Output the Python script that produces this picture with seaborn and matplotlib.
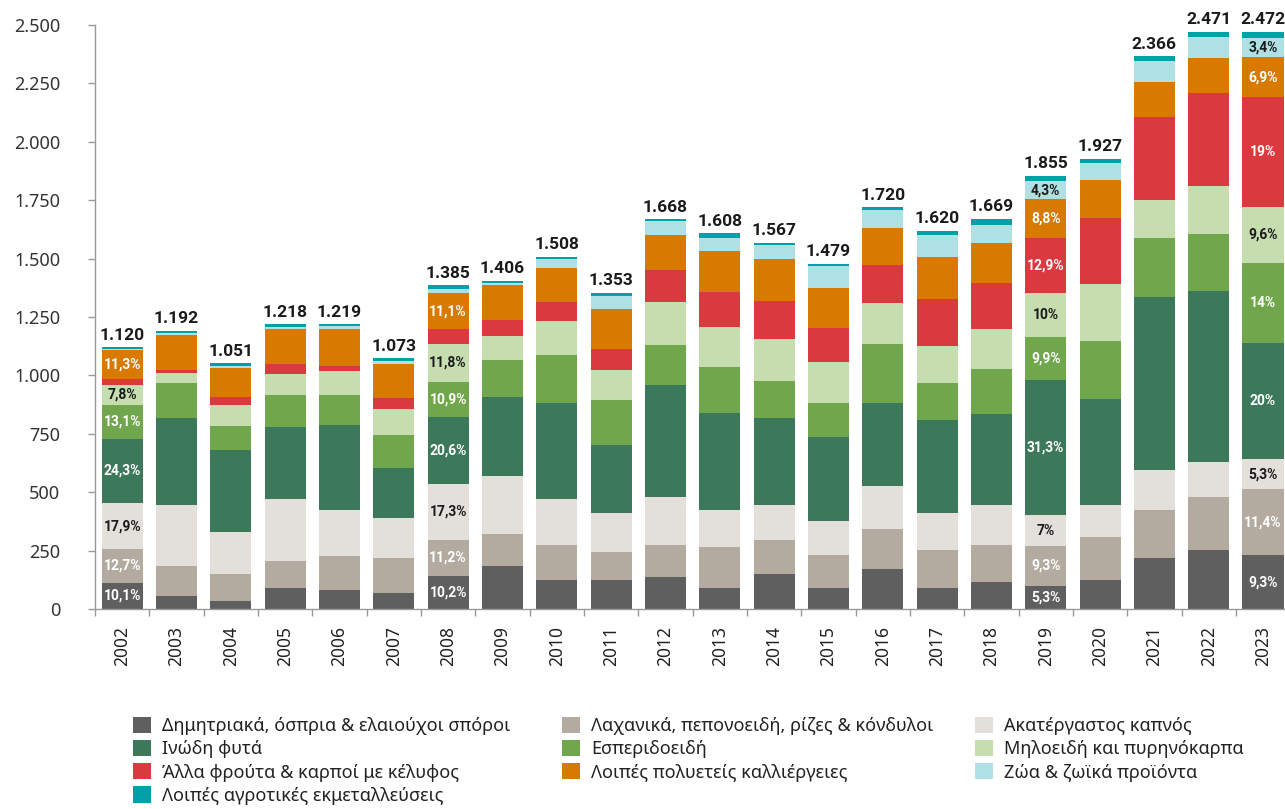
import numpy as np
import pandas as pd
import matplotlib
matplotlib.use("Agg")
import matplotlib.pyplot as plt
from matplotlib.patches import Patch
import seaborn as sns

# --- data ---
years = ["2002", "2003", "2004", "2005", "2006", "2007", "2008", "2009", "2010", "2011", "2012",
         "2013", "2014", "2015", "2016", "2017", "2018", "2019", "2020", "2021", "2022", "2023"]

cereals = [113, 56, 34, 90, 81, 68, 141, 185, 126, 126, 138, 91, 151, 91, 173, 90, 115, 98, 124, 219, 253, 230]
vegetables = [142, 128, 116, 116, 146, 150, 155, 137, 150, 116, 137, 176, 146, 141, 169, 163, 159, 173, 185, 205, 227, 282]
tobacco = [200, 261, 180, 265, 197, 171, 240, 248, 197, 171, 205, 158, 150, 146, 185, 159, 171, 130, 137, 171, 151, 131]
fibre = [272, 373, 352, 309, 363, 214, 285, 339, 409, 289, 481, 416, 370, 359, 356, 398, 389, 580, 452, 742, 730, 494]
citrus = [147, 150, 103, 137, 128, 141, 151, 158, 205, 193, 171, 197, 158, 146, 253, 159, 193, 184, 249, 253, 244, 346]
pome = [87, 43, 90, 90, 103, 111, 163, 103, 146, 128, 184, 171, 180, 176, 173, 158, 171, 186, 244, 159, 205, 237]
other_fruit = [22, 13, 34, 43, 21, 47, 62, 68, 81, 90, 137, 146, 163, 146, 163, 198, 197, 239, 283, 356, 398, 470]
other_perennial = [127, 150, 124, 150, 158, 146, 154, 150, 146, 171, 146, 176, 180, 171, 158, 180, 171, 163, 163, 149, 151, 171]
livestock = [5, 9, 9, 9, 13, 12, 21, 9, 39, 56, 60, 56, 60, 94, 78, 95, 78, 80, 71, 90, 90, 84]
other_farms = [5, 9, 9, 9, 9, 13, 13, 9, 9, 13, 9, 21, 9, 9, 12, 20, 25, 22, 19, 22, 22, 27]

categories = [
    "Δημητριακά, όσπρια & ελαιούχοι σπόροι",
    "Λαχανικά, πεπονοειδή, ρίζες & κόνδυλοι",
    "Ακατέργαστος καπνός",
    "Ινώδη φυτά",
    "Εσπεριδοειδή",
    "Μηλοειδή και πυρηνόκαρπα",
    "Άλλα φρούτα & καρποί με κέλυφος",
    "Λοιπές πολυετείς καλλιέργειες",
    "Ζώα & ζωϊκά προϊόντα",
    "Λοιπές αγροτικές εκμεταλλεύσεις",
]

# percentage labels shown inside the segments (bottom -> top)
pct_2002 = ["10,1%", "12,7%", "17,9%", "24,3%", "13,1%", "7,8%", None, "11,3%", None, None]
pct_2008 = ["10,2%", "11,2%", "17,3%", "20,6%", "10,9%", "11,8%", None, "11,1%", None, None]
pct_2019 = ["5,3%", "9,3%", "7%", "31,3%", "9,9%", "10%", "12,9%", "8,8%", "4,3%", None]
pct_2023 = ["9,3%", "11,4%", "5,3%", "20%", "14%", "9,6%", "19%", "6,9%", "3,4%", None]
pct_years = ["2002", "2008", "2019", "2023"]

colors = ["#5f5f5f", "#b3aba0", "#e3dfdb", "#3c785a", "#70a64c",
          "#c6ddb0", "#da3a3f", "#d87a00", "#aee0e4", "#00a0a8"]
label_colors = ["white", "white", "#1a1a1a", "white", "white",
                "#1a1a1a", "white", "white", "#1a1a1a", "white"]

series = [cereals, vegetables, tobacco, fibre, citrus, pome,
          other_fruit, other_perennial, livestock, other_farms]
df = pd.DataFrame(dict(zip(categories, series)), index=years)
cum = df.cumsum(axis=1)
totals = df.sum(axis=1)

sns.set_theme(style="ticks")
plt.rcParams['font.family'] = ['Noto Sans', 'DejaVu Sans']
bold_font = ['Roboto', 'DejaVu Sans']

fig = plt.figure(figsize=(12.85, 8.09), dpi=100)
ax = fig.add_axes([95 / 1285, (809 - 609) / 809, 1190 / 1285, 584 / 809])

# stacked bars: draw cumulative heights from the top layer down
for cat, col in reversed(list(zip(categories, colors))):
    sns.barplot(x=years, y=cum[cat].values, color=col, saturation=1,
                width=0.755, linewidth=0, errorbar=None, ax=ax)

# percentage labels
for yr, labels in zip(pct_years, [pct_2002, pct_2008, pct_2019, pct_2023]):
    i = years.index(yr)
    for j, lab in enumerate(labels):
        if lab is None:
            continue
        mid = cum.iloc[i, j] - df.iloc[i, j] / 2
        ax.text(i, mid, lab, ha='center', va='center', fontsize=10,
                family=bold_font, fontweight='bold', color=label_colors[j])

# totals on top
for i, yr in enumerate(years):
    ax.text(i, totals[yr] + 20, f"{totals[yr]:,}".replace(",", "."),
            ha='center', va='bottom', fontsize=12.5, family=bold_font,
            fontweight='bold', color='#1a1a1a')

ax.set_xlim(-0.5, 21.405)
ax.set_ylim(0, 2500)
yticks = list(range(0, 2501, 250))
ax.set_yticks(yticks)
ax.set_yticklabels([f"{v:,}".replace(",", ".") for v in yticks])
ax.set_xticks(range(len(years)))
ax.set_xticklabels(years, rotation=90)
ax.set_xticks(np.arange(-0.5, len(years) - 0.5, 1), minor=True)
ax.tick_params(axis='x', which='major', length=0, pad=12, labelsize=12.5, labelcolor='#222')
ax.tick_params(axis='x', which='minor', length=5, width=1, color='#999')
ax.tick_params(axis='y', length=5, width=1, pad=20, labelsize=13, color='#999', labelcolor='#333')
ax.set_xlabel('')
ax.set_ylabel('')
for s in ['top', 'right']:
    ax.spines[s].set_visible(False)
for s in ['left', 'bottom']:
    ax.spines[s].set_color('#999')
    ax.spines[s].set_linewidth(1)

# legend: three columns placed separately
handles = [Patch(facecolor=c, edgecolor='none') for c in colors]
col_groups = [[0, 3, 6, 9], [1, 4, 7], [2, 5, 8]]
col_x = [133, 562, 975]
for grp, x in zip(col_groups, col_x):
    leg = fig.legend([handles[k] for k in grp], [categories[k] for k in grp],
                     loc='upper left', bbox_to_anchor=(x / 1285, 1 - 717 / 809),
                     frameon=False, fontsize=13, handlelength=1.0, handleheight=1.0,
                     handletextpad=0.6, labelspacing=0.27, borderpad=0, borderaxespad=0)
    for t in leg.get_texts():
        t.set_color('#222')

fig.savefig('out.png', dpi=100)
